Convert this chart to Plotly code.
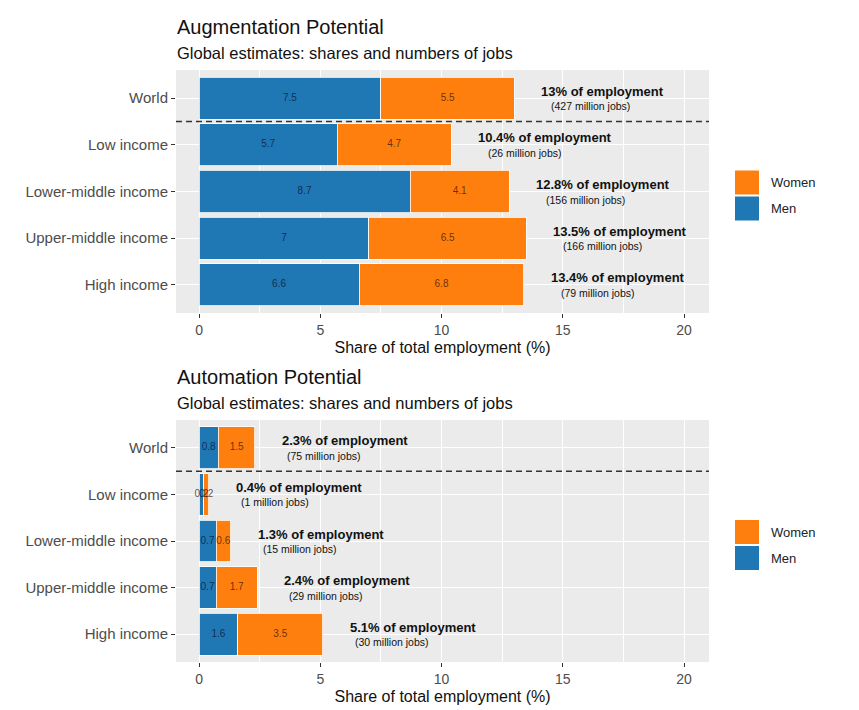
import plotly.graph_objects as go

# ---------------- data ----------------
categories = ["World", "Low income", "Lower-middle income", "Upper-middle income", "High income"]

aug_men = [7.5, 5.7, 8.7, 7.0, 6.6]
aug_women = [5.5, 4.7, 4.1, 6.5, 6.8]
aug_total = [13, 10.4, 12.8, 13.5, 13.4]
aug_jobs = [427, 26, 156, 166, 79]

auto_men = [0.8, 0.2, 0.7, 0.7, 1.6]
auto_women = [1.5, 0.2, 0.6, 1.7, 3.5]
auto_total = [2.3, 0.4, 1.3, 2.4, 5.1]
auto_jobs = [75, 1, 15, 29, 30]

x_ticks = [0, 5, 10, 15, 20]

panels = [
    dict(title="Augmentation Potential", men=aug_men, women=aug_women,
         total=aug_total, jobs=aug_jobs),
    dict(title="Automation Potential", men=auto_men, women=auto_women,
         total=auto_total, jobs=auto_jobs),
]
subtitle = "Global estimates: shares and numbers of jobs"
x_title = "Share of total employment (%)"

# ---------------- style ----------------
FONT = "Liberation Sans"
MEN_C = "#1F77B4"
WOMEN_C = "#FF7F0E"
PANEL_BG = "#EBEBEB"
OFF = 8  # page body margin of the browser
W, H = 859 - OFF, 710 - OFF


def px_x(p):
    return (p - OFF) / W


def py(p):
    return 1 - (p - OFF) / H


x_dom = [px_x(176), px_x(709)]
# reference pixel extents (top, bottom) of each panel
panel_px = [(70, 313), (420, 662)]
small_shift = [35, 30]

fig = go.Figure()
layout = dict(
    width=W, height=H,
    margin=dict(l=0, r=0, t=0, b=0),
    paper_bgcolor="white",
    plot_bgcolor=PANEL_BG,
    barmode="stack",
    bargap=0.1,
    showlegend=False,
    font=dict(family=FONT, color="#222222"),
)
annotations = []
shapes = []


def fmt(v):
    return f"{v:g}"


for i, p in enumerate(panels):
    n = "" if i == 0 else str(i + 1)
    xa, ya = "x" + n, "y" + n
    top_px, bot_px = panel_px[i]

    fig.add_trace(go.Bar(
        y=categories, x=p["men"], orientation="h", name="Men",
        marker=dict(color=MEN_C, line=dict(color="white", width=0.8)),
        xaxis=xa, yaxis=ya, hoverinfo="x+y"))
    fig.add_trace(go.Bar(
        y=categories, x=p["women"], orientation="h", name="Women",
        marker=dict(color=WOMEN_C, line=dict(color="white", width=0.8)),
        xaxis=xa, yaxis=ya, hoverinfo="x+y"))

    # segment labels at segment midpoints
    men_mid = [m / 2 for m in p["men"]]
    women_mid = [m + w / 2 for m, w in zip(p["men"], p["women"])]
    fig.add_trace(go.Scatter(
        y=categories, x=men_mid, mode="text", text=[fmt(v) for v in p["men"]],
        textfont=dict(size=10, color="rgba(10,10,30,0.7)", family=FONT),
        xaxis=xa, yaxis=ya, hoverinfo="skip"))
    fig.add_trace(go.Scatter(
        y=categories, x=women_mid, mode="text", text=[fmt(v) for v in p["women"]],
        textfont=dict(size=10, color="rgba(40,10,10,0.7)", family=FONT),
        xaxis=xa, yaxis=ya, hoverinfo="skip"))

    # total labels
    for cat, tot, jobs in zip(categories, p["total"], p["jobs"]):
        annotations.append(dict(
            x=tot, y=cat, xref=xa, yref=ya, xanchor="left", yanchor="middle",
            xshift=25, yshift=7, showarrow=False,
            text=f"<b>{fmt(tot)}% of employment</b>",
            font=dict(size=13, color="#111111", family=FONT)))
        annotations.append(dict(
            x=tot, y=cat, xref=xa, yref=ya, xanchor="left", yanchor="middle",
            xshift=small_shift[i], yshift=-8, showarrow=False,
            text=f"({jobs} million jobs)",
            font=dict(size=10.5, color="#111111", family=FONT)))

    # dashed separator between World and the income groups
    shapes.append(dict(
        type="line", xref=xa + " domain", yref=ya, x0=0, x1=1, y0=0.5, y1=0.5,
        line=dict(color="#333333", width=1.5, dash="6px,4px")))

    layout["xaxis" + n] = dict(
        domain=x_dom, anchor=ya, range=[-0.95, 21.03],
        tickvals=x_ticks, ticktext=[str(t) for t in x_ticks],
        showgrid=True, gridcolor="white", gridwidth=1.2,
        minor=dict(showgrid=True, gridcolor="white", gridwidth=0.5,
                   tickvals=[2.5, 7.5, 12.5, 17.5], ticks=""),
        zeroline=False, showline=False,
        ticks="outside", ticklen=4, tickwidth=1, tickcolor="#333333",
        tickfont=dict(size=14, color="#4D4D4D", family=FONT),
        title=dict(text=x_title, standoff=5,
                   font=dict(size=16, color="#111111", family=FONT)),
        automargin=False, fixedrange=True,
    )
    layout["yaxis" + n] = dict(
        domain=[py(bot_px), py(top_px)], anchor=xa,
        categoryorder="array", categoryarray=categories,
        range=[4.6, -0.6],
        showgrid=True, gridcolor="white", gridwidth=1.2,
        zeroline=False, showline=False,
        ticks="outside", ticklen=4, tickwidth=1, tickcolor="#333333",
        tickfont=dict(size=15, color="#4D4D4D", family=FONT),
        automargin=False, fixedrange=True,
    )

    # titles
    annotations.append(dict(
        x=px_x(175), y=py(top_px - 43), xref="paper", yref="paper",
        xanchor="left", yanchor="middle", showarrow=False,
        text=p["title"], font=dict(size=20, color="#111111", family=FONT)))
    annotations.append(dict(
        x=px_x(175), y=py(top_px - 17), xref="paper", yref="paper",
        xanchor="left", yanchor="middle", showarrow=False,
        text=subtitle, font=dict(size=16.5, color="#111111", family=FONT)))

    # legend (ggplot-style keys)
    centre = (top_px + bot_px) / 2 + 4
    for j, (lab, col) in enumerate([("Women", WOMEN_C), ("Men", MEN_C)]):
        k_top = centre - 25 + j * 26
        shapes.append(dict(
            type="rect", xref="paper", yref="paper",
            x0=px_x(735), x1=px_x(759), y0=py(k_top + 24), y1=py(k_top),
            fillcolor=col, line=dict(width=0)))
        annotations.append(dict(
            x=px_x(769), y=py(k_top + 12), xref="paper", yref="paper",
            xanchor="left", yanchor="middle", showarrow=False,
            text=lab, font=dict(size=13, color="#222222", family=FONT)))

layout["annotations"] = annotations
layout["shapes"] = shapes
fig.update_layout(**layout)

fig.write_html("out.html")
